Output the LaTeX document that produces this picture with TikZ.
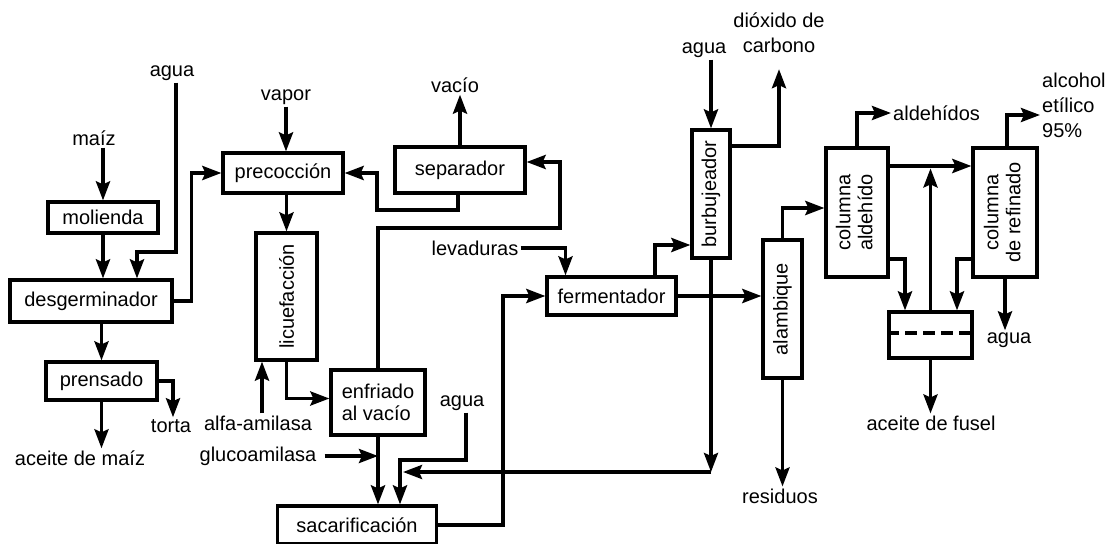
\documentclass[tikz,border=0pt]{standalone}
\usepackage{fontspec}
\setmainfont{Liberation Sans}
\usetikzlibrary{arrows.meta}

\tikzset{
  proc/.style={draw,rectangle,line width=3.2pt,inner sep=3pt,text centered},
  lbl/.style={inner sep=2pt},
  flow/.style={line width=3.6pt,-{Stealth[length=19pt,width=14pt,inset=3pt]}}}

\begin{document}
\begin{tikzpicture}
[x=1pt,y=-1pt,font=\fontsize{20}{22}\selectfont,
 twoline/.style={lbl,font=\fontsize{20}{25}\selectfont}]
\useasboundingbox (0,0) rectangle (1110,543);

\node (molienda) at (103,217.5) [proc, minimum width=110pt, minimum height=31pt] {molienda};
\node (desgerminador) at (91,301) [proc, minimum width=162pt, minimum height=42pt] {desgerminador};
\node (prensado) at (101.5,381) [proc, minimum width=111pt, minimum height=38pt] {prensado};
\node (precoccion) at (283,173) [proc, minimum width=120pt, minimum height=40pt] {precocción};
\node (licuefaccion) at (286.5,296.5) [proc, minimum width=61pt, minimum height=127pt] {\rotatebox{90}{licuefacción}};
\node (separador) at (460,170) [proc, minimum width=130pt, minimum height=46pt] {separador};
\node (enfriado) at (378,402.5) [proc, minimum width=94pt, minimum height=65pt, align=left] {enfriado\\al vacío};
\node (sacarificacion) at (357,525) [proc, minimum width=159pt, minimum height=38pt] {sacarificación};
\node (fermentador) at (611.5,296) [proc, minimum width=129pt, minimum height=38pt] {fermentador};
\node (burbujeador) at (711,194) [proc, minimum width=38pt, minimum height=128pt] {\rotatebox{90}{burbujeador}};
\node (alambique) at (782.5,309) [proc, minimum width=39pt, minimum height=138pt] {\rotatebox{90}{alambique}};
\node (aldehido) at (857,212.5) [proc, minimum width=62pt, minimum height=129pt] {\rotatebox{90}{\begin{tabular}{@{}c@{}}columna\\aldehído\end{tabular}}};
\node (refinado) at (1005,212.5) [proc, minimum width=64pt, minimum height=129pt] {\rotatebox{90}{\begin{tabular}{@{}c@{}}columna\\de refinado\end{tabular}}};
\node (decantador) at (930.5,335) [proc, minimum width=83pt, minimum height=46pt] {};

\node (maiz) at (94,138) [lbl] {maíz};
\node (agua1) at (172,73) [lbl] {agua};
\node (torta) at (171,426) [lbl] {torta};
\node (aceitemaiz) at (80,458) [lbl] {aceite de maíz};
\node (vapor) at (286,97) [lbl] {vapor};
\node (vacio) at (455,85) [lbl] {vacío};
\node (alfa) at (258,423) [lbl] {alfa-amilasa};
\node (gluco) at (258,456) [lbl] {glucoamilasa};
\node (agua2) at (462,403) [lbl] {agua};
\node (levaduras) at (475,248) [lbl] {levaduras};
\node (agua3) at (704,50) [lbl] {agua};
\node (co2) at (779,33) [twoline, align=center] {dióxido de\\carbono};
\node (residuos) at (780,496) [lbl] {residuos};
\node (aldehidos) at (891,113) [lbl, anchor=west] {aldehídos};
\node (alcohol) at (1040,105) [twoline, align=left, anchor=west] {alcohol\\etílico\\95\%};
\node (agua4) at (1009,340) [lbl] {agua};
\node (fusel) at (931,423) [lbl] {aceite de fusel};

\coordinate (agua1in) at (137,252);
\coordinate (aguain) at (400,460);
\coordinate (retorno) at (711,472);
\coordinate (sepret) at (377,210);
\coordinate (vacret) at (560,228);

\draw[flow] (maiz.south -| molienda.north) -- (molienda.north);
\draw[flow] (molienda.south) -- (molienda.south |- desgerminador.north);
\draw[flow] ([xshift=4pt]agua1.south) |- (agua1in) -- (agua1in |- desgerminador.north);
\draw[flow] (desgerminador.east) -- ++(18,0) |- (precoccion.west);
\draw[flow] (prensado.north |- desgerminador.south) -- (prensado.north);
\draw[flow] (prensado.east) -| ([xshift=2pt]torta.north);
\draw[flow] (prensado.south) -- (prensado.south |- aceitemaiz.north);
\draw[flow] (vapor.south) -- (vapor.south |- precoccion.north);
\draw[flow] (licuefaccion.north |- precoccion.south) -- (licuefaccion.north);
\draw[flow] (licuefaccion.south) |- ([yshift=4pt]enfriado.west);
\draw[flow] ([xshift=4pt]alfa.north) -- ([xshift=4pt]alfa.north |- licuefaccion.south);
\draw[flow] ([xshift=6pt]gluco.east) -- (gluco.east -| enfriado.south);
\draw[flow] (enfriado.south) -- (enfriado.south |- sacarificacion.north);
\draw[flow] ([xshift=4pt]agua2.south) |- (aguain) -- (aguain |- sacarificacion.north);
\draw[flow] (burbujeador.south) -- (retorno);
\draw[flow] (retorno) -- ([xshift=3pt]aguain |- retorno);
\draw[flow] (sacarificacion.east) -- ++(65,0) |- (fermentador.west);
\draw[flow] (levaduras.east) -| ([xshift=-46pt]fermentador.north);
\draw[flow] ([xshift=43.5pt]fermentador.north) |- ([yshift=-51pt]burbujeador.west);
\draw[flow] (burbujeador.north |- agua3.south) -- (burbujeador.north);
\draw[flow] ([yshift=48pt]burbujeador.east) -| ([yshift=-14pt]co2.south);
\draw[flow] (fermentador.east) -- (fermentador.east -| alambique.west);
\draw[flow] (alambique.south) -- (alambique.south |- residuos.north);
\draw[flow] (alambique.north) |- ([yshift=4.5pt]aldehido.west);
\draw[flow] (aldehido.north) |- (aldehidos.west);
\draw[flow] ([yshift=46.5pt]aldehido.east) -- ([yshift=46.5pt]refinado.west);
\draw[flow] (decantador.north) -- ++(0,-142);
\draw[flow] ([yshift=-46.5pt]aldehido.east) -| ([xshift=-25.5pt]decantador.north);
\draw[flow] ([yshift=-46.5pt]refinado.west) -| ([xshift=26.5pt]decantador.north);
\draw[flow] ([xshift=2pt]refinado.north) |- ([yshift=-10pt]alcohol.west);
\draw[flow] (refinado.south) -- (refinado.south |- agua4.north);
\draw[flow] (decantador.south) -- (decantador.south |- fusel.north);
\draw[line width=3.2pt, dash pattern=on 12pt off 6pt] ([yshift=2pt]decantador.west) -- ([yshift=2pt]decantador.east);
\draw[flow] ([xshift=-2pt]separador.south) |- (sepret) |- (precoccion.east);
\draw[flow] (separador.north) -- (separador.north |- vacio.south);
\draw[flow] (enfriado.north) |- (vacret) |- ([yshift=8pt]separador.east);
\end{tikzpicture}
\end{document}
